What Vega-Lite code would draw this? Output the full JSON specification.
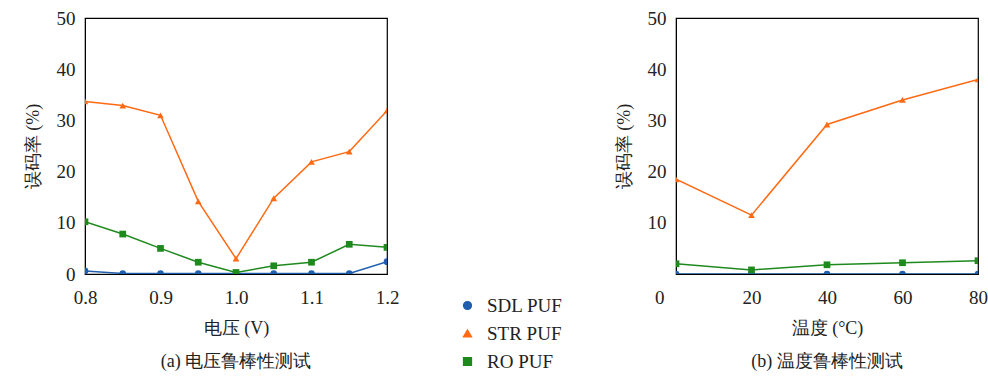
{
  "$schema": "https://vega.github.io/schema/vega-lite/v6.json",
  "background": "white",
  "padding": {"left": 23, "top": 8, "right": 8, "bottom": 4},
  "spacing": 214,
  "datasets": {
    "voltage": [
      {"v": 0.8, "series": "SDL PUF", "err": 0.6},
      {"v": 0.85, "series": "SDL PUF", "err": 0.1},
      {"v": 0.9, "series": "SDL PUF", "err": 0.1},
      {"v": 0.95, "series": "SDL PUF", "err": 0.1},
      {"v": 1.0, "series": "SDL PUF", "err": 0.1},
      {"v": 1.05, "series": "SDL PUF", "err": 0.1},
      {"v": 1.1, "series": "SDL PUF", "err": 0.1},
      {"v": 1.15, "series": "SDL PUF", "err": 0.1},
      {"v": 1.2, "series": "SDL PUF", "err": 2.4},
      {"v": 0.8, "series": "STR PUF", "err": 33.7},
      {"v": 0.85, "series": "STR PUF", "err": 32.9},
      {"v": 0.9, "series": "STR PUF", "err": 31.0},
      {"v": 0.95, "series": "STR PUF", "err": 14.2},
      {"v": 1.0, "series": "STR PUF", "err": 3.0},
      {"v": 1.05, "series": "STR PUF", "err": 14.8},
      {"v": 1.1, "series": "STR PUF", "err": 21.9},
      {"v": 1.15, "series": "STR PUF", "err": 23.9},
      {"v": 1.2, "series": "STR PUF", "err": 31.9},
      {"v": 0.8, "series": "RO PUF", "err": 10.2},
      {"v": 0.85, "series": "RO PUF", "err": 7.8},
      {"v": 0.9, "series": "RO PUF", "err": 5.0},
      {"v": 0.95, "series": "RO PUF", "err": 2.3},
      {"v": 1.0, "series": "RO PUF", "err": 0.3},
      {"v": 1.05, "series": "RO PUF", "err": 1.6},
      {"v": 1.1, "series": "RO PUF", "err": 2.3},
      {"v": 1.15, "series": "RO PUF", "err": 5.8},
      {"v": 1.2, "series": "RO PUF", "err": 5.2}
    ],
    "temp": [
      {"t": 0, "series": "SDL PUF", "err": 0.0},
      {"t": 20, "series": "SDL PUF", "err": 0.0},
      {"t": 40, "series": "SDL PUF", "err": 0.0},
      {"t": 60, "series": "SDL PUF", "err": 0.0},
      {"t": 80, "series": "SDL PUF", "err": 0.0},
      {"t": 0, "series": "STR PUF", "err": 18.5},
      {"t": 20, "series": "STR PUF", "err": 11.5},
      {"t": 40, "series": "STR PUF", "err": 29.2},
      {"t": 60, "series": "STR PUF", "err": 34.0},
      {"t": 80, "series": "STR PUF", "err": 38.0},
      {"t": 0, "series": "RO PUF", "err": 2.0},
      {"t": 20, "series": "RO PUF", "err": 0.8},
      {"t": 40, "series": "RO PUF", "err": 1.8},
      {"t": 60, "series": "RO PUF", "err": 2.2},
      {"t": 80, "series": "RO PUF", "err": 2.6}
    ]
  },
  "config": {
    "font": "Liberation Serif",
    "view": {"stroke": "black", "strokeWidth": 1.2},
    "axis": {
      "grid": false,
      "domainColor": "black",
      "ticks": false,
      "labelFlush": false,
      "labelFont": "Liberation Serif",
      "labelFontSize": 19,
      "labelColor": "#222",
      "titleFont": "Liberation Serif",
      "titleFontSize": 18,
      "titleFontWeight": "normal",
      "titleColor": "#222"
    },
    "title": {"font": "Liberation Serif", "fontSize": 18, "fontWeight": "normal", "color": "#222"},
    "legend": {"labelFont": "Liberation Serif", "labelFontSize": 19, "labelColor": "#222"}
  },
  "hconcat": [
    {
      "width": 302,
      "height": 256,
      "title": {"text": "(a) 电压鲁棒性测试", "orient": "bottom", "offset": 16},
      "data": {"name": "voltage"},
      "encoding": {
        "x": {"field": "v", "type": "quantitative", "scale": {"domain": [0.8, 1.2], "nice": false},
              "axis": {"values": [0.8, 0.9, 1.0, 1.1, 1.2], "format": ".1f", "title": "电压 (V)", "labelPadding": 14, "titlePadding": 12}},
        "y": {"field": "err", "type": "quantitative", "scale": {"domain": [0, 50], "nice": false},
              "axis": {"values": [0, 10, 20, 30, 40, 50], "title": "误码率 (%)", "labelPadding": 10, "titlePadding": 14}},
        "color": {"field": "series", "type": "nominal",
                  "scale": {"domain": ["SDL PUF", "STR PUF", "RO PUF"], "range": ["#1f5fae", "#ff6a13", "#1e8a1e"]},
                  "legend": {"orient": "none", "legendX": 373, "legendY": 278, "title": null, "symbolSize": 60, "rowPadding": 8, "labelOffset": 10}},
        "shape": {"field": "series", "type": "nominal",
                  "scale": {"domain": ["SDL PUF", "STR PUF", "RO PUF"], "range": ["circle", "triangle-up", "square"]},
                  "legend": {"orient": "none", "legendX": 373, "legendY": 278, "title": null}}
      },
      "layer": [
        {"mark": {"type": "line", "strokeWidth": 1.5, "clip": true}, "encoding": {"shape": null}},
        {"mark": {"type": "point", "filled": true, "opacity": 1, "size": 45, "clip": true}}
      ]
    },
    {
      "width": 302,
      "height": 256,
      "title": {"text": "(b) 温度鲁棒性测试", "orient": "bottom", "offset": 16},
      "data": {"name": "temp"},
      "encoding": {
        "x": {"field": "t", "type": "quantitative", "scale": {"domain": [0, 80], "nice": false},
              "axis": {"values": [0, 20, 40, 60, 80], "title": "温度 (°C)", "labelPadding": 14, "titlePadding": 12,
                       "labelAlign": {"expr": "datum.value == 0 ? 'right' : 'center'"}, "labelOffset": {"expr": "datum.value == 0 ? -12 : 0"}}},
        "y": {"field": "err", "type": "quantitative", "scale": {"domain": [0, 50], "nice": false},
              "axis": {"values": [10, 20, 30, 40, 50], "title": "误码率 (%)", "labelPadding": 10, "titlePadding": 14}},
        "color": {"field": "series", "type": "nominal"},
        "shape": {"field": "series", "type": "nominal"}
      },
      "layer": [
        {"mark": {"type": "line", "strokeWidth": 1.5, "clip": true}, "encoding": {"shape": null}},
        {"mark": {"type": "point", "filled": true, "opacity": 1, "size": 45, "clip": true}}
      ]
    }
  ]
}
